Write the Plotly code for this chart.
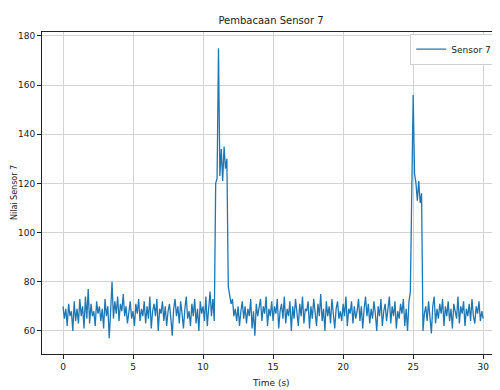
import plotly.graph_objects as go

sample_interval = 0.1  # seconds between readings

sensor7 = [
    70, 65, 69, 62, 71, 66, 68, 60, 72, 64,
    69, 63, 73, 66, 70, 61, 74, 65, 77, 63,
    71, 66, 68, 62, 72, 67, 70, 64, 69, 61,
    73, 66, 70, 57, 68, 80, 65, 72, 67, 74,
    64, 71, 68, 75, 66, 70, 63, 69, 72, 65,
    68, 62, 71, 67, 73, 64, 69, 66, 72, 63,
    70, 65, 74, 61, 68, 71, 66, 73, 60, 69,
    67, 72, 64, 70, 62, 68, 71, 65, 58, 69,
    73, 66, 70, 63, 72, 67, 61, 69, 74, 65,
    68, 62, 71, 66, 73, 63, 69, 60, 72, 67,
    70, 64, 74, 62, 71, 76, 66, 73, 64, 120,
    122, 175, 123, 134, 121, 135, 126, 130, 78, 75,
    71, 73, 66, 69, 64, 70, 62, 68, 72, 65,
    70, 63, 69, 66, 73, 61, 68, 58, 71, 66,
    69, 73, 64, 70, 67, 74, 62, 69, 66, 72,
    64, 70, 67, 73, 61, 68, 71, 65, 74, 63,
    69, 66, 72, 60, 70, 65, 73, 67, 62, 71,
    66, 74, 63, 69, 68, 72, 61, 70, 65, 73,
    67, 62, 71, 66, 75, 64, 69, 60, 72, 66,
    70, 63, 73, 67, 61, 69, 72, 65, 68, 64,
    71, 66, 74, 62, 69, 67, 72, 63, 70, 65,
    68, 73, 64, 70, 61, 69, 74, 66, 71, 63,
    69, 65, 72, 67, 60, 70, 66, 73, 62, 68,
    71, 64, 69, 74, 63, 70, 66, 72, 61, 68,
    65, 71, 67, 73, 62, 69, 60, 72, 76, 118,
    156, 124, 120, 113, 121, 112, 116, 60, 67, 70,
    64, 72, 66, 59, 70, 74, 63, 69, 65, 71,
    67, 73, 62, 70, 66, 72, 64, 69, 61, 71,
    68, 65, 74, 63, 70, 67, 72, 62, 69, 66,
    71, 64, 73, 66, 63, 70, 67, 72, 64, 68,
    65,
]
time_s = [round(i * sample_interval, 2) for i in range(len(sensor7))]

x_ticks = [0, 5, 10, 15, 20, 25, 30]
y_ticks = [60, 80, 100, 120, 140, 160, 180]

FONT = "DejaVu Sans"
TXT = "#222"

# page has an 8px body margin, so the figure is 492x382 placed at (8, 8)
W, H = 492, 382

fig = go.Figure()
fig.add_trace(go.Scatter(
    x=time_s, y=sensor7, mode="lines", name="Sensor 7",
    line=dict(color="#1f77b4", width=1.3),
))

axis_common = dict(
    showline=True, linecolor=TXT, linewidth=1, mirror=True,
    ticks="outside", ticklen=4, tickcolor=TXT, tickwidth=1,
    showgrid=True, gridcolor="#d3d3d3", gridwidth=1,
    zeroline=False, automargin=False,
    tickfont=dict(family=FONT, size=9, color=TXT),
)

fig.update_layout(
    width=W, height=H,
    margin=dict(l=34, r=0, t=24, b=36),
    paper_bgcolor="white", plot_bgcolor="white",
    title=dict(text="Pembacaan Sensor 7", x=263 / W, xanchor="center",
               y=1 - 12 / H, yanchor="middle",
               font=dict(family=FONT, size=10, color=TXT)),
    xaxis=dict(range=[-1.5, 31.2], tickvals=x_ticks, **axis_common),
    yaxis=dict(range=[50.6, 181.6], tickvals=y_ticks, **axis_common),
    legend=dict(x=0.994, y=0.995, xanchor="right", yanchor="top",
                bgcolor="rgba(255,255,255,0.85)", bordercolor="#d0d0d0", borderwidth=1,
                itemwidth=30, font=dict(family=FONT, size=9, color=TXT)),
    showlegend=True,
    annotations=[
        dict(text="Time (s)", xref="paper", yref="paper", x=0.5, y=-29 / 322,
             xanchor="center", yanchor="middle", showarrow=False,
             font=dict(family=FONT, size=9, color=TXT)),
        dict(text="Nilai Sensor 7", xref="paper", yref="paper", x=-28 / 458, y=0.5,
             xanchor="center", yanchor="middle", showarrow=False, textangle=-90,
             font=dict(family=FONT, size=8, color=TXT)),
    ],
)

fig.write_html("out.html")
